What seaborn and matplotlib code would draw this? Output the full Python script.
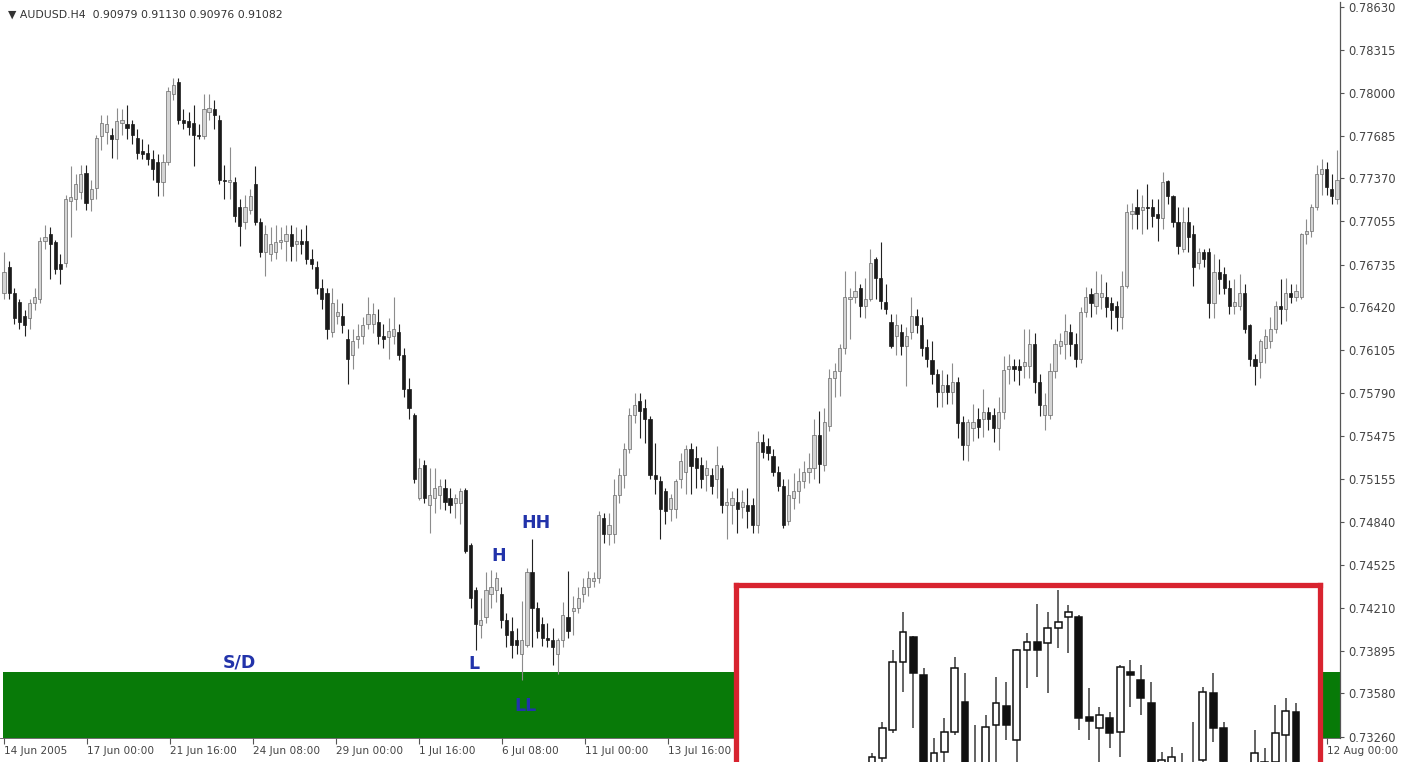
import numpy as np
import matplotlib
matplotlib.use("Agg")
import matplotlib.pyplot as plt
import seaborn as sns

# ---------------- main AUDUSD H4 candles (prices in 1e-4 units) ----------------
main_open = [
    7653, 7672, 7653, 7646, 7636, 7634, 7645, 7648, 7691, 7696,
    7690, 7674, 7675, 7720, 7722, 7727, 7741, 7722, 7730, 7768,
    7771, 7769, 7766, 7778, 7777, 7777, 7767, 7757, 7756, 7751,
    7749, 7734, 7749, 7799, 7808, 7780, 7779, 7778, 7769, 7768,
    7786, 7788, 7780, 7736, 7734, 7734, 7716, 7705, 7714, 7733,
    7705, 7683, 7681, 7683, 7690, 7691, 7696, 7689, 7691, 7691,
    7678, 7672, 7656, 7653, 7624, 7636, 7636, 7619, 7607, 7619,
    7621, 7630, 7630, 7631, 7621, 7620, 7621, 7624, 7607, 7582,
    7563, 7502, 7526, 7497,
    7502, 7504, 7509, 7502, 7498, 7498, 7508, 7467, 7434, 7408,
    7414, 7431, 7434, 7431, 7412, 7404, 7397, 7387, 7394, 7447,
    7421, 7409, 7399, 7397, 7387, 7397, 7414, 7419, 7421, 7431,
    7436, 7441, 7443, 7487, 7475, 7475, 7504, 7519, 7538, 7563,
    7573, 7568, 7560, 7519, 7514, 7507, 7494, 7494, 7516, 7521,
    7538, 7531, 7526, 7519, 7519, 7516, 7524, 7497, 7497, 7499,
    7495, 7497, 7497, 7482, 7543, 7540, 7533, 7521, 7511, 7485,
    7502, 7507, 7514, 7521, 7524, 7548, 7526, 7555, 7590, 7595,
    7612, 7648, 7650, 7656, 7643, 7648, 7678, 7664, 7646, 7631,
    7621, 7624, 7614, 7624, 7636, 7629, 7613, 7603, 7593, 7580,
    7585, 7580, 7587, 7558, 7541, 7553, 7560, 7560, 7565, 7563,
    7553, 7565, 7597, 7599, 7599, 7599, 7599, 7615, 7587, 7563,
    7563, 7595, 7614, 7615, 7624, 7615, 7604, 7639, 7652, 7643,
    7650, 7650, 7645, 7643, 7635, 7658, 7711, 7716, 7714, 7716,
    7716, 7711, 7708, 7735, 7724, 7705, 7685, 7705, 7696, 7675,
    7683, 7683, 7645, 7668, 7667, 7656, 7643, 7643, 7653, 7629,
    7604, 7602, 7612, 7617, 7626, 7643, 7641, 7653, 7650, 7650,
    7696, 7698, 7716, 7740, 7744, 7729, 7722,
]
main_high = [
    7683, 7676, 7656, 7648, 7640, 7648, 7656, 7694, 7703, 7701,
    7692, 7681, 7725, 7746, 7740, 7747, 7747, 7736, 7769, 7784,
    7784, 7774, 7789, 7788, 7791, 7780, 7773, 7766, 7762, 7758,
    7755, 7755, 7804, 7811, 7811, 7788, 7786, 7791, 7777, 7799,
    7799, 7795, 7784, 7747, 7760, 7738, 7722, 7725, 7729, 7746,
    7708, 7703, 7701, 7703, 7701, 7703, 7703, 7701, 7700, 7703,
    7685, 7676, 7663, 7656, 7656, 7648, 7645, 7626, 7626, 7630,
    7635, 7650, 7645, 7641, 7630, 7634, 7650, 7630, 7612, 7590,
    7564, 7531, 7530, 7524,
    7524, 7516, 7516, 7509, 7505, 7509, 7509, 7469, 7436, 7428,
    7447, 7449, 7447, 7436, 7417, 7414, 7406, 7426, 7450, 7472,
    7425, 7414, 7410, 7406, 7399, 7425, 7448, 7430, 7436, 7443,
    7448, 7447, 7492, 7491, 7491, 7516, 7524, 7542, 7568, 7579,
    7579, 7575, 7562, 7542, 7518, 7509, 7505, 7516, 7535, 7541,
    7542, 7540, 7532, 7530, 7524, 7540, 7526, 7509, 7507, 7509,
    7508, 7509, 7502, 7551, 7549, 7546, 7538, 7525, 7516, 7516,
    7520, 7524, 7529, 7535, 7560, 7566, 7568, 7597, 7601, 7615,
    7669, 7656, 7669, 7659, 7664, 7685, 7679, 7690, 7659, 7637,
    7637, 7630, 7628, 7650, 7641, 7635, 7619, 7617, 7597, 7596,
    7593, 7601, 7591, 7562, 7560, 7571, 7568, 7582, 7569, 7568,
    7576, 7606, 7608, 7604, 7604, 7626, 7626, 7623, 7593, 7579,
    7601, 7619, 7623, 7637, 7630, 7623, 7642, 7657, 7656, 7669,
    7667, 7661, 7650, 7647, 7669, 7718, 7719, 7729, 7725, 7733,
    7722, 7722, 7742, 7736, 7725, 7716, 7716, 7716, 7703, 7686,
    7685, 7686, 7681, 7678, 7672, 7662, 7663, 7667, 7659, 7630,
    7608, 7619, 7626, 7635, 7647, 7663, 7664, 7659, 7659, 7697,
    7707, 7718, 7747, 7751, 7749, 7740, 7758,
]
main_low = [
    7648, 7648, 7630, 7626, 7621, 7626, 7640, 7645, 7685, 7663,
    7667, 7659, 7672, 7694, 7714, 7722, 7714, 7713, 7722, 7758,
    7762, 7752, 7751, 7769, 7766, 7762, 7751, 7751, 7747, 7736,
    7724, 7724, 7747, 7795, 7777, 7773, 7769, 7746, 7766, 7766,
    7780, 7773, 7733, 7722, 7722, 7705, 7687, 7700, 7711, 7703,
    7679, 7665, 7676, 7678, 7685, 7676, 7676, 7676, 7681, 7674,
    7670, 7652, 7641, 7619, 7620, 7630, 7623, 7586, 7597, 7612,
    7615, 7626, 7623, 7615, 7612, 7604, 7615, 7603, 7576, 7560,
    7513, 7500, 7498, 7476,
    7491, 7494, 7493, 7491, 7487, 7483, 7461, 7421, 7390, 7399,
    7410, 7421, 7425, 7406, 7392, 7384, 7387, 7368, 7392, 7392,
    7399, 7393, 7392, 7379, 7372, 7392, 7399, 7401, 7417, 7425,
    7430, 7436, 7439, 7469, 7467, 7469, 7498, 7509, 7535, 7557,
    7546, 7542, 7516, 7505, 7472, 7483, 7485, 7487, 7509, 7505,
    7505, 7509, 7509, 7507, 7505, 7502, 7491, 7472, 7483, 7476,
    7487, 7480, 7476, 7476, 7531, 7530, 7518, 7507, 7480, 7482,
    7494, 7498, 7509, 7513, 7516, 7513, 7522, 7551, 7576, 7577,
    7608, 7619, 7645, 7635, 7634, 7647, 7648, 7641, 7637, 7612,
    7607, 7607, 7584, 7619, 7623, 7606, 7598, 7586, 7569, 7569,
    7571, 7571, 7546, 7530, 7529, 7544, 7546, 7547, 7552, 7543,
    7537, 7560, 7586, 7588, 7585, 7590, 7590, 7579, 7562, 7552,
    7560, 7590, 7608, 7604, 7606, 7598, 7601, 7635, 7635, 7637,
    7641, 7635, 7626, 7625, 7626, 7656, 7700, 7700, 7696, 7700,
    7701, 7691, 7700, 7718, 7701, 7681, 7683, 7683, 7658, 7670,
    7672, 7634, 7634, 7652, 7652, 7637, 7637, 7640, 7623, 7599,
    7585, 7590, 7601, 7612, 7623, 7630, 7632, 7645, 7647, 7648,
    7689, 7694, 7714, 7725, 7725, 7718, 7718,
]
main_close = [
    7668, 7653, 7634, 7631, 7629, 7645, 7650, 7691, 7694, 7689,
    7670, 7670, 7722, 7723, 7733, 7740, 7719, 7729, 7767, 7778,
    7777, 7766, 7779, 7780, 7774, 7769, 7756, 7755, 7751, 7744,
    7734, 7749, 7801, 7806, 7780, 7778, 7775, 7769, 7768, 7788,
    7789, 7784, 7736, 7735, 7736, 7709, 7702, 7716, 7724, 7705,
    7683, 7696, 7689, 7690, 7692, 7696, 7687, 7691, 7689, 7678,
    7674, 7656, 7648, 7626, 7645, 7639, 7629, 7604, 7617, 7621,
    7629, 7637, 7637, 7621, 7619, 7625, 7626, 7607, 7582, 7568,
    7516, 7524, 7502, 7504,
    7509, 7511, 7499, 7497, 7502, 7507, 7463, 7428, 7409, 7412,
    7434, 7436, 7443, 7412, 7401, 7394, 7394, 7397, 7447, 7421,
    7404, 7399, 7397, 7392, 7397, 7416, 7404, 7421, 7428, 7436,
    7443, 7443, 7489, 7475, 7482, 7504, 7519, 7538, 7563, 7570,
    7566, 7560, 7519, 7516, 7494, 7492, 7502, 7514, 7529, 7538,
    7525, 7524, 7516, 7524, 7511, 7526, 7497, 7499, 7502, 7494,
    7499, 7492, 7482, 7543, 7536, 7535, 7521, 7511, 7482, 7504,
    7507, 7514, 7521, 7524, 7548, 7527, 7558, 7590, 7595, 7612,
    7650, 7650, 7654, 7643, 7648, 7675, 7664, 7647, 7641, 7614,
    7629, 7614, 7621, 7636, 7629, 7612, 7604, 7593, 7580, 7585,
    7580, 7587, 7557, 7541, 7558, 7558, 7554, 7565, 7560, 7553,
    7565, 7596, 7599, 7597, 7596, 7602, 7615, 7587, 7570, 7570,
    7595, 7615, 7617, 7625, 7615, 7604, 7639, 7650, 7645, 7653,
    7653, 7642, 7640, 7635, 7658, 7712, 7713, 7711, 7716, 7715,
    7709, 7708, 7734, 7724, 7705, 7687, 7705, 7694, 7672, 7683,
    7678, 7645, 7668, 7663, 7656, 7643, 7646, 7653, 7626, 7604,
    7599, 7617, 7621, 7626, 7643, 7641, 7653, 7650, 7654, 7696,
    7698, 7716, 7740, 7744, 7731, 7724, 7736,
]

# ---------------- zoomed inset candles (prices in 1e-4 units) ----------------
ins_open = [7370, 7376.9, 7384.0, 7400.9, 7407.3, 7397.75, 7370, 7378.6, 7383.6, 7391.1,
            7366, 7372, 7385.25, 7390.1, 7381.5, 7404.0, 7406.1, 7405.7, 7409.4, 7412.3,
            7412.3, 7387.3, 7384.4, 7386.9, 7383.6, 7398.6, 7396.5, 7390.7, 7374, 7375,
            7372, 7370, 7376.5, 7393.2, 7384.4, 7366, 7369, 7374, 7374, 7376.1,
            7382.75, 7388.4]
ins_high = [7378.2, 7386.1, 7404.0, 7413.6, 7407.5, 7399.4, 7381.9, 7386.9, 7402.3, 7398.2,
            7385.25, 7387.75, 7397.3, 7396.1, 7404.25, 7408.2, 7415.4, 7413.6, 7419.0, 7415.25,
            7412.75, 7394.4, 7389.8, 7388.6, 7400.25, 7401.5, 7400.25, 7396.1, 7378.6, 7379.8,
            7378.2, 7386.1, 7394.8, 7398.2, 7386.1, 7372, 7373, 7384.0, 7379.4, 7390.25,
            7391.9, 7390.7]
ins_low = [7368, 7376.1, 7383.2, 7393.6, 7384.4, 7362, 7368, 7376.1, 7382.75, 7366,
           7364, 7370, 7376.1, 7381.5, 7376.1, 7394.4, 7397.3, 7393.2, 7404.4, 7403.2,
           7384.0, 7381.5, 7376.1, 7379.4, 7377.3, 7389.8, 7387.75, 7365, 7370, 7372,
           7369, 7368, 7376.1, 7381.1, 7365, 7362, 7364, 7372, 7370, 7374,
           7376.1, 7365]
ins_close = [7377.3, 7384.4, 7401.1, 7408.6, 7398.2, 7365, 7378.2, 7383.6, 7399.4, 7370,
             7374, 7384.8, 7390.7, 7385.25, 7404.0, 7406.1, 7404.0, 7409.6, 7411.1, 7413.6,
             7386.9, 7386.25, 7387.75, 7383.2, 7399.8, 7397.75, 7391.9, 7368, 7376.5, 7377.3,
             7374, 7374, 7393.6, 7384.4, 7368, 7369, 7367, 7378.2, 7376, 7383.2,
             7388.75, 7368]

# ---------------- axis labels ----------------
price_ticks = [0.78630, 0.78315, 0.78000, 0.77685, 0.77370, 0.77055, 0.76735, 0.76420,
               0.76105, 0.75790, 0.75475, 0.75155, 0.74840, 0.74525, 0.74210, 0.73895,
               0.73580, 0.73260]
date_labels = ["14 Jun 2005", "17 Jun 00:00", "21 Jun 16:00", "24 Jun 08:00",
               "29 Jun 00:00", "1 Jul 16:00", "6 Jul 08:00", "11 Jul 00:00",
               "13 Jul 16:00", "12 Aug 00:00"]
title_text = "\u25BC AUDUSD.H4  0.90979 0.91130 0.90976 0.91082"
sd_zone = (0.73200, 0.73740)
labels_txt = ["S/D", "H", "HH", "L", "LL"]
labels_bar = [46.0, 96.5, 103.8, 91.7, 101.8]
labels_price = [0.73808, 0.74594, 0.74837, 0.73793, 0.73491]

sns.set_theme(style="white")
plt.rcParams["font.family"] = ["DejaVu Sans"]

W, H = 1413, 762
fig = plt.figure(figsize=(W / 100, H / 100), dpi=100)
fig.patch.set_facecolor("white")


def draw_candles(ax, o, h, l, c, width, bull_face, bull_edge, bear_face, bear_edge,
                 wick_bull, wick_bear, lw_edge, lw_wick, min_body):
    o, h, l, c = (np.asarray(v, dtype=float) / 1e4 for v in (o, h, l, c))
    x = np.arange(len(o))
    up = c >= o
    ax.vlines(x[up], l[up], h[up], colors=wick_bull, lw=lw_wick, zorder=3)
    ax.vlines(x[~up], l[~up], h[~up], colors=wick_bear, lw=lw_wick, zorder=3)
    bottom = np.minimum(o, c)
    height = np.maximum(np.abs(c - o), min_body)
    ax.bar(x[up], height[up], bottom=bottom[up], width=width, color=bull_face,
           edgecolor=bull_edge, linewidth=lw_edge, zorder=4)
    ax.bar(x[~up], height[~up], bottom=bottom[~up], width=width, color=bear_face,
           edgecolor=bear_edge, linewidth=lw_edge, zorder=4)


# ---------------- main chart ----------------
ax = fig.add_axes([0, 1 - 738 / H, 1340 / W, 736 / H])
ax.set_facecolor("white")
ax.axhspan(sd_zone[0], sd_zone[1], xmin=0.002, xmax=1.0, color="#087a08", zorder=1, lw=0)
draw_candles(ax, main_open, main_high, main_low, main_close, 0.62,
             "#d4d4d4", "#6a6a6a", "#1a1a1a", "#1a1a1a", "#8c8c8c", "#222222",
             0.5, 0.8, 0.00002)

ax.set_xlim(-0.78, 260.58)
ax.set_ylim(0.73252, 0.78668)

for s in ["top", "left"]:
    ax.spines[s].set_visible(False)
ax.spines["right"].set_color("#555555")
ax.spines["right"].set_linewidth(0.9)
ax.spines["bottom"].set_color("#555555")
ax.spines["bottom"].set_linewidth(0.6)

ax.yaxis.tick_right()
ax.set_yticks(price_ticks)
ax.set_yticklabels([f"{v:.5f}" for v in price_ticks])
ax.tick_params(axis="y", which="both", right=True, left=False, direction="out",
               length=3, width=0.8, color="#555555", pad=3, labelsize=8.3,
               labelcolor="#444444")

xt = list(np.arange(9) * 16.2) + [258.0]
ax.set_xticks(xt)
ax.set_xticklabels(date_labels)
ax.tick_params(axis="x", which="both", bottom=True, direction="out", length=4,
               width=0.8, color="#555555", pad=2, labelsize=7.6, labelcolor="#444444")
for t in ax.get_xticklabels():
    t.set_horizontalalignment("left")
    t.set_clip_on(False)
ax.grid(False)

for txt, bx, py in zip(labels_txt, labels_bar, labels_price):
    ax.text(bx, py, txt, color="#2233aa", fontsize=12.5, fontweight="bold",
            ha="center", va="center", zorder=6)

fig.text(8 / W, 1 - 15 / H, title_text, fontsize=7.8, color="#333333", va="center", ha="left")

# ---------------- zoomed inset (red frame) ----------------
ax2 = fig.add_axes([735.5 / W, 0, 584 / W, (762 - 584.5) / H])
ax2.set_facecolor("white")
draw_candles(ax2, ins_open, ins_high, ins_low, ins_close, 0.66,
             "white", "#111111", "#111111", "#111111", "#3a3a3a", "#3a3a3a",
             1.1, 1.1, 0.00003)
ax2.set_xlim(-13.2, 43.28)
ax2.set_ylim(0.73760, 0.74204)
ax2.set_xticks([])
ax2.set_yticks([])
ax2.grid(False)
for s in ["top", "left", "right"]:
    ax2.spines[s].set_visible(True)
    ax2.spines[s].set_color("#d8232f")
    ax2.spines[s].set_linewidth(3.8)
ax2.spines["bottom"].set_visible(False)

fig.savefig("out.png", dpi=100, facecolor="white")
